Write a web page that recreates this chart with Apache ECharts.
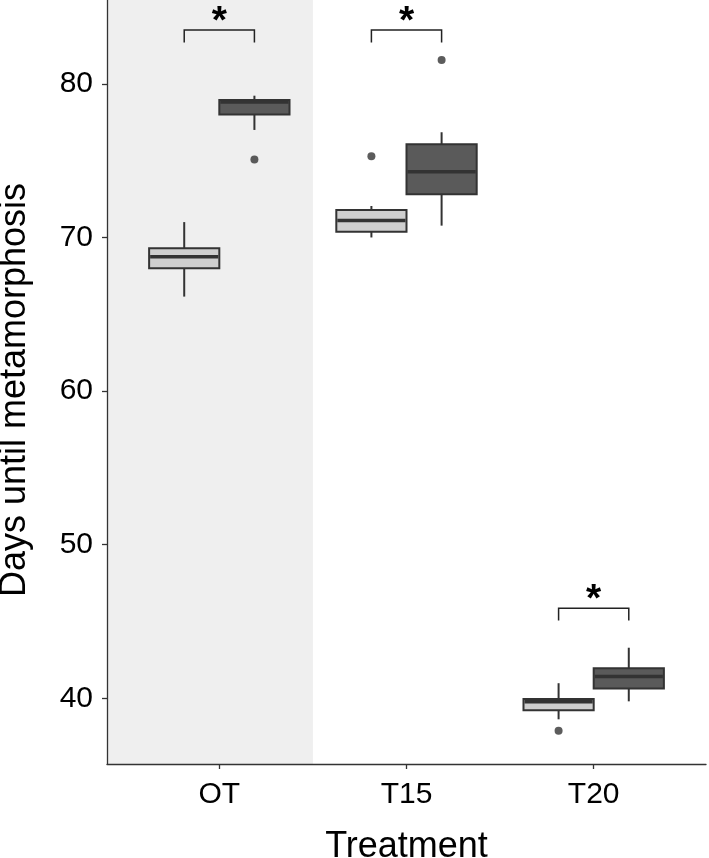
<!DOCTYPE html>
<html>
<head>
<meta charset="utf-8">
<script src="https://cdn.jsdelivr.net/npm/echarts@6/dist/echarts.min.js"></script>
<style>
html,body{margin:0;padding:0;background:#fff;}
#c{width:709px;height:858px;}
</style>
</head>
<body>
<div id="c"></div>
<script>
// ---- data ----
const categories = ['OT', 'T15', 'T20'];
// [lower whisker, Q1, median, Q3, upper whisker]
const lightBox = [
  [66.15, 68.0, 68.75, 69.3, 71.0],
  [70.0, 70.38, 71.1, 71.79, 72.05],
  [38.63, 39.22, 39.78, 39.95, 40.98]
];
const darkBox = [
  [77.0, 78.0, 78.82, 78.95, 79.23],
  [70.77, 72.81, 74.28, 76.07, 76.85],
  [39.8, 40.63, 41.41, 41.95, 43.29]
];
// [category index, value]
const lightOutliers = [[1, 75.29], [2, 37.89]];
const darkOutliers = [[0, 75.07], [1, 81.56]];
// significance brackets: height of bracket top, per category
const sigHeights = [83.5, 83.5, 45.86];
const sigLabels = ['*', '*', '*'];
const yTicks = [40, 50, 60, 70, 80];

// ---- layout ----
const dodge = 0.1875, boxW = 0.375, sigDrop = 0.8;
const yMin = 35.72, yMax = 85.46;
const FONT = "'Liberation Sans', Arial, Helvetica, sans-serif";
const INK = '#333333';

function boxItems(stats, off) {
  return stats.map((s, i) => [i + 1 + off].concat(s));
}
function renderBox(fill) {
  return function (params, api) {
    const x = api.value(0);
    const pLo = api.coord([x, api.value(1)]);
    const pQ1 = api.coord([x, api.value(2)]);
    const pMd = api.coord([x, api.value(3)]);
    const pQ3 = api.coord([x, api.value(4)]);
    const pHi = api.coord([x, api.value(5)]);
    const w = api.size([boxW, 0])[0];
    const cx = pLo[0];
    return {
      type: 'group',
      children: [
        {type: 'line', shape: {x1: cx, y1: pHi[1], x2: cx, y2: pQ3[1]}, style: {stroke: INK, lineWidth: 2}},
        {type: 'line', shape: {x1: cx, y1: pQ1[1], x2: cx, y2: pLo[1]}, style: {stroke: INK, lineWidth: 2}},
        {type: 'rect', shape: {x: cx - w / 2, y: pQ3[1], width: w, height: pQ1[1] - pQ3[1]},
          style: {fill: fill, stroke: INK, lineWidth: 2}},
        {type: 'line', shape: {x1: cx - w / 2 + 1, y1: pMd[1], x2: cx + w / 2 - 1, y2: pMd[1]},
          style: {stroke: INK, lineWidth: 3.5}}
      ]
    };
  };
}

const sigData = sigHeights.map((h, i) => [i + 1 - dodge, i + 1 + dodge, h, h - sigDrop, i]);

const option = {
  animation: false,
  backgroundColor: '#ffffff',
  grid: {left: 107, right: 3, top: 0, bottom: 94, containLabel: false, outerBoundsMode: 'none'},
  xAxis: {
    type: 'value', min: 0.4, max: 3.6,
    name: 'Treatment', nameLocation: 'middle', nameGap: 65,
    nameTextStyle: {fontFamily: FONT, fontSize: 36, color: '#000'},
    splitLine: {show: false},
    axisLine: {show: true, lineStyle: {color: INK, width: 1.3}},
    axisTick: {show: true, length: 5, lineStyle: {color: INK, width: 1.3}, customValues: [1, 2, 3]},
    axisLabel: {fontFamily: FONT, fontSize: 30, color: '#000', margin: 16,
      customValues: [1, 2, 3], formatter: v => categories[Math.round(v) - 1]}
  },
  yAxis: {
    type: 'value', min: yMin, max: yMax,
    name: 'Days until metamorphosis', nameLocation: 'middle', nameGap: 74,
    nameTextStyle: {fontFamily: FONT, fontSize: 36, color: '#000', padding: [0, 16, 0, 0]},
    splitLine: {show: false},
    axisLine: {show: true, lineStyle: {color: INK, width: 1.3}},
    axisTick: {show: true, length: 5, lineStyle: {color: INK, width: 1.3}, customValues: yTicks},
    axisLabel: {fontFamily: FONT, fontSize: 30, color: '#000', margin: 14, customValues: yTicks}
  },
  series: [
    {
      type: 'custom', z: -1, silent: true,
      data: [[0.4, 1.5]],
      encode: {x: [0, 1]},
      renderItem: function (params, api) {
        const p0 = api.coord([api.value(0), yMax]);
        const p1 = api.coord([api.value(1), yMin]);
        return {type: 'rect', shape: {x: p0[0], y: p0[1], width: p1[0] - p0[0], height: p1[1] - p0[1]},
          style: {fill: '#efefef'}};
      }
    },
    {
      type: 'custom', name: 'light', data: boxItems(lightBox, -dodge),
      encode: {x: 0, y: [1, 2, 3, 4, 5]}, renderItem: renderBox('#cfcfcf')
    },
    {
      type: 'custom', name: 'dark', data: boxItems(darkBox, dodge),
      encode: {x: 0, y: [1, 2, 3, 4, 5]}, renderItem: renderBox('#5a5a5a')
    },
    {
      type: 'scatter', symbol: 'circle', symbolSize: 8,
      itemStyle: {color: INK},
      data: lightOutliers.map(d => [d[0] + 1 - dodge, d[1]])
    },
    {
      type: 'scatter', symbol: 'circle', symbolSize: 8,
      itemStyle: {color: INK},
      data: darkOutliers.map(d => [d[0] + 1 + dodge, d[1]])
    },
    {
      type: 'custom', data: sigData,
      encode: {x: [0, 1], y: [2, 3]},
      renderItem: function (params, api) {
        const a = api.coord([api.value(0), api.value(3)]);
        const b = api.coord([api.value(0), api.value(2)]);
        const c = api.coord([api.value(1), api.value(2)]);
        const d = api.coord([api.value(1), api.value(3)]);
        return {
          type: 'group',
          children: [
            {type: 'polyline', shape: {points: [a, b, c, d]}, style: {stroke: '#222', lineWidth: 1.5, fill: null}},
            {type: 'text', x: (b[0] + c[0]) / 2, y: b[1] - 8,
              style: {text: sigLabels[api.value(4)], fontFamily: FONT, fontWeight: 'bold', fontSize: 39,
                fill: '#000', align: 'center', verticalAlign: 'middle'}}
          ]
        };
      }
    }
  ]
};

const chart = echarts.init(document.getElementById('c'), null, {renderer: 'canvas'});
chart.setOption(option);
</script>
</body>
</html>
